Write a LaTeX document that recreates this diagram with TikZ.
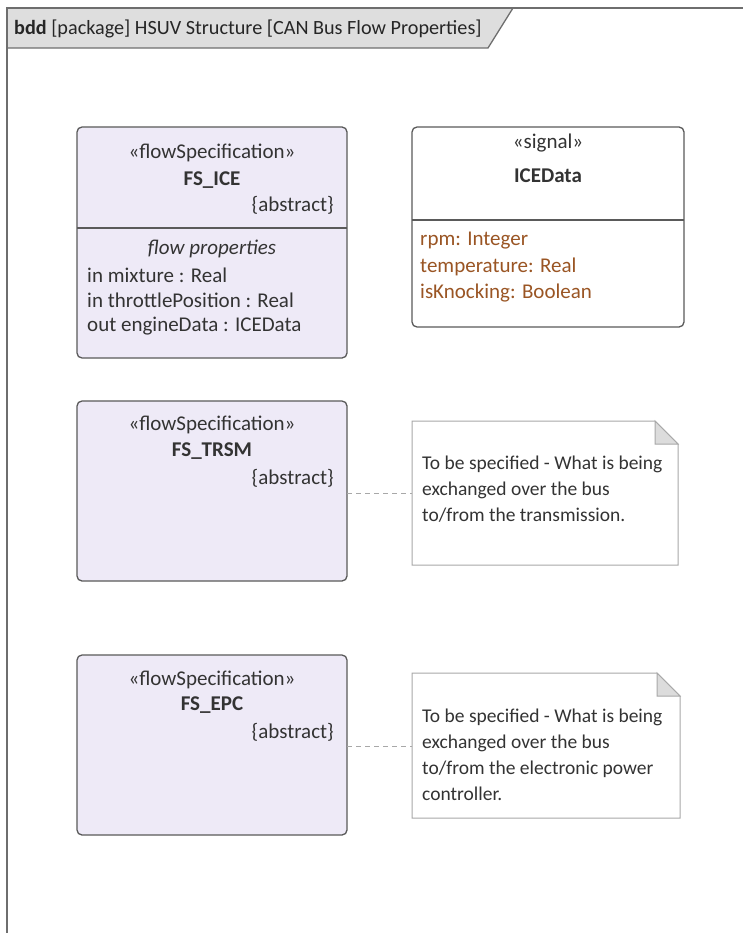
\documentclass[tikz,border=0pt]{standalone}
\usepackage{fontspec}
\setmainfont{Carlito}
\usetikzlibrary{positioning}
\definecolor{framec}{HTML}{6E6E6E}
\definecolor{tabfill}{HTML}{DEDEDE}
\definecolor{blockfill}{HTML}{EEEAF7}
\definecolor{blockline}{HTML}{5A5A5A}
\definecolor{txt}{HTML}{333333}
\definecolor{attr}{HTML}{9A5524}
\definecolor{notec}{HTML}{A8A8A8}
\definecolor{earfill}{HTML}{DCDCDC}
\tikzset{
  x=1pt, y=-1pt,
  block/.style={draw=blockline, line width=1.3pt, fill=blockfill, rounded corners=5pt, inner sep=0pt},
  sigblock/.style={draw=blockline, line width=1.3pt, fill=white, rounded corners=5pt, inner sep=0pt},
  lbl/.style={inner sep=0pt, text=txt, font=\fontsize{21}{24}\selectfont},
  albl/.style={inner sep=0pt, text=attr, font=\fontsize{21}{24}\selectfont},
  notetxt/.style={inner sep=0pt, text=txt, font=\fontsize{19.5}{26}\selectfont, align=left, anchor=north west},
  noteline/.style={draw=notec, line width=1pt, fill=white},
  link/.style={draw=notec, line width=1pt, dash pattern=on 5pt off 4pt},
}
\begin{document}
\begin{tikzpicture}
\useasboundingbox (0,0) rectangle (743,933);
\fill[white] (0,0) rectangle (743,933);
% frame
\filldraw[draw=framec, fill=tabfill, line width=1.3pt] (7,8) -- (513,8) -- (488,48) -- (7,48) -- cycle;
\draw[framec, line width=1.6pt] (7,935) -- (7,8) -- (745,8);
\node[lbl, anchor=base west, text=black!85, font=\fontsize{20.2}{24}\selectfont] (title) at (14,35) {\textbf{bdd} [package] HSUV Structure [CAN Bus Flow Properties]};

% FS_ICE
\path[block] (77,127) rectangle (347,358);
\draw[blockline, line width=1.2pt] (77,228) -- (347,228);
\node[lbl] (iceSt) at (212,153) {«flowSpecification»};
\node[lbl] (iceName) at (212,180) {\textbf{FS\_ICE}};
\node[lbl, anchor=east] (iceAbs) at (334,205) {\{abstract\}};
\node[lbl] (iceFp) at (212,249) {\itshape flow properties};
\node[lbl, anchor=west] (iceP1) at (87,275) {in mixture : Real};
\node[lbl, anchor=west] (iceP2) at (87,300) {in throttlePosition : Real};
\node[lbl, anchor=west] (iceP3) at (87,326) {out engineData : ICEData};

% ICEData
\path[sigblock] (412,127) rectangle (684,327);
\draw[blockline, line width=1.2pt] (412,220) -- (684,220);
\node[lbl] (sigSt) at (548,143) {«signal»};
\node[lbl] (sigName) at (548,176) {\textbf{ICEData}};
\node[albl, anchor=west] (sigA1) at (420,241) {rpm: Integer};
\node[albl, anchor=west] (sigA2) at (420,267) {temperature: Real};
\node[albl, anchor=west] (sigA3) at (420,293) {isKnocking: Boolean};

% FS_TRSM
\node[block, minimum width=270pt, minimum height=180pt] (trsm) at (212,491) {};
\node[lbl] (trsmSt) at (212,425) {«flowSpecification»};
\node[lbl] (trsmName) at (212,451) {\textbf{FS\_TRSM}};
\node[lbl, anchor=east] (trsmAbs) at (334,478) {\{abstract\}};

% note 1
\path[noteline] (412,421) -- (655,421) -- (678,444) -- (678,565) -- (412,565) -- cycle;
\filldraw[draw=notec, fill=earfill, line width=1pt] (655,421) -- (678,444) -- (655,444) -- cycle;
\node[inner sep=0pt, minimum width=266pt, minimum height=144pt] (note1) at (545,493) {};
\node[notetxt] (n1t) at (422,456) {To be specified - What is being\\exchanged over the bus\\to/from the transmission.};
\coordinate (trsmR) at (347,493);
\coordinate (n1L) at (412,493);
\draw[link] (trsmR) -- (n1L);

% FS_EPC
\node[block, minimum width=270pt, minimum height=180pt] (epc) at (212,745) {};
\node[lbl] (epcSt) at (212,680) {«flowSpecification»};
\node[lbl] (epcName) at (212,705) {\textbf{FS\_EPC}};
\node[lbl, anchor=east] (epcAbs) at (334,732) {\{abstract\}};

% note 2
\path[noteline] (412,673) -- (657,673) -- (680,696) -- (680,818) -- (412,818) -- cycle;
\filldraw[draw=notec, fill=earfill, line width=1pt] (657,673) -- (680,696) -- (657,696) -- cycle;
\node[inner sep=0pt, minimum width=268pt, minimum height=145pt] (note2) at (546,745.5) {};
\node[notetxt] (n2t) at (422,709) {To be specified - What is being\\exchanged over the bus\\to/from the electronic power\\controller.};
\coordinate (epcR) at (347,746);
\coordinate (n2L) at (412,746);
\draw[link] (epcR) -- (n2L);
\end{tikzpicture}
\end{document}
